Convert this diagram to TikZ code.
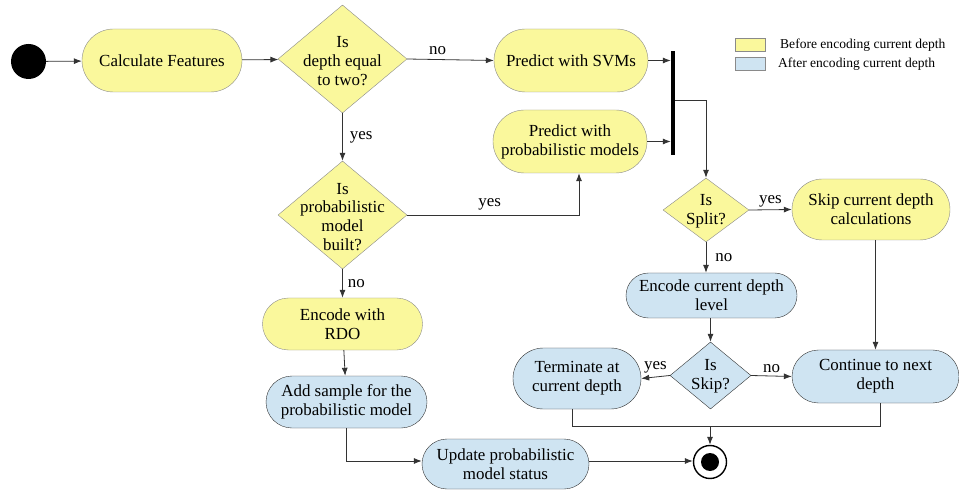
\documentclass[tikz,border=0pt]{standalone}
\usepackage{fontspec}
\setmainfont{Liberation Serif}
\usetikzlibrary{shapes.misc,shapes.geometric,arrows.meta}
\definecolor{yel}{HTML}{FAF89C}
\definecolor{blu}{HTML}{CFE4F2}
\definecolor{edgeg}{HTML}{8A8A8A}
\begin{document}
\begin{tikzpicture}[x=1bp,y=-1bp,
  every node/.style={font=\rmfamily\fontsize{17}{19}\selectfont},
  pillY/.style={rounded rectangle, draw=edgeg, fill=yel, align=center, inner sep=0},
  pillB/.style={rounded rectangle, draw=black!80, fill=blu, align=center, inner sep=0},
  diaY/.style={diamond, draw=edgeg, fill=yel, inner sep=0},
  diaB/.style={diamond, draw=black!80, fill=blu, inner sep=0},
  txt/.style={align=center, inner sep=0},
  arr/.style={draw=black!80, line width=0.8bp, -{Latex[length=8bp,width=6bp]}},
  ln/.style={draw=black!80, line width=0.8bp},
  lbl/.style={inner sep=1bp}]
\useasboundingbox (0,0) rectangle (959,491);

% start
\node[circle, fill=black, minimum size=35bp, inner sep=0] (start) at (28.5,61.5) {};
\node[pillY, minimum width=160bp, minimum height=63bp] (calc) at (162,60.5) {Calculate Features};
\node[diaY, minimum width=129bp, minimum height=108bp] (d1) at (342.5,59) {};
\node[txt] (d1t) at (342.5,61) {Is\\depth equal\\to two?};
\node[pillY, minimum width=154bp, minimum height=63bp] (svm) at (571,60.5) {Predict with SVMs};
\node[pillY, minimum width=154bp, minimum height=63bp] (pm) at (570,141.5) {Predict with\\probabilistic models};
\node[rectangle, fill=black, minimum width=4bp, minimum height=104bp, inner sep=0] (bar) at (673,103) {};

\node[diaY, minimum width=129bp, minimum height=108bp] (d2) at (342.5,215) {};
\node[txt] (d2t) at (342.5,217) {Is\\probabilistic\\model\\built?};
\node[pillY, minimum width=160bp, minimum height=52bp] (rdo) at (342.5,324) {Encode with\\RDO};
\node[pillB, minimum width=161bp, minimum height=52bp] (add) at (346.5,402) {Add sample for the\\probabilistic model};
\node[pillB, minimum width=167bp, minimum height=50bp] (upd) at (505.5,464) {Update probabilistic\\model status};

\node[diaY, minimum width=86bp, minimum height=64bp] (split) at (706,210) {};
\node[txt] (splitt) at (706,211) {Is\\Split?};
\node[pillY, minimum width=158bp, minimum height=61bp] (skip) at (871,209.5) {Skip current depth\\calculations};
\node[pillB, minimum width=171bp, minimum height=45bp] (enc) at (711.5,295.5) {Encode current depth\\level};
\node[diaB, minimum width=81bp, minimum height=67bp] (sk) at (710.5,375.5) {};
\node[txt] (skt) at (710.5,376) {Is\\Skip?};
\node[pillB, minimum width=128bp, minimum height=61bp] (term) at (577,378.5) {Terminate at\\current depth};
\node[pillB, minimum width=167bp, minimum height=53bp] (cont) at (875.5,376.5) {Continue to next\\depth};

\node[circle, draw=black, line width=1.4bp, fill=white, minimum size=33bp, inner sep=0] (end) at (710,462) {};
\node[circle, fill=black, minimum size=18bp, inner sep=0] (endin) at (end) {};

% connectors
\draw[arr] (start) -- (calc);
\draw[arr] (calc) -- (d1);
\draw[arr] (d1.east) -- node[lbl, above, pos=0.35, yshift=3bp] {no} (svm.west);
\draw[arr] (svm.east) -- (svm.east -| bar.west);
\draw[arr] (pm.east) -- (pm.east -| bar.west);
\coordinate (bj) at (675,100);
\draw[arr] (bj) -| (split.north);
\draw[arr] (d1.south) -- node[lbl, right, xshift=6bp] {yes} (d2.north);
\draw[arr] (d2.east) -| node[lbl, above, pos=0.24, yshift=3bp] {yes} ([xshift=9bp]pm.south);
\draw[arr] (d2.south) -- node[lbl, right, xshift=4bp] {no} (rdo.north);
\draw[arr] (rdo) -- (add);
\coordinate (ua) at (430,461);
\draw[arr] (add.south) |- (upd.west |- ua);
\draw[arr] (upd.east |- ua) -- (end.west |- ua);
\draw[arr] (split.east) -- node[lbl, above, yshift=1bp] {yes} (skip.west);
\draw[arr] (split.south) -- node[lbl, right, xshift=8bp] {no} (enc.north -| split.south);
\draw[arr] (enc.south -| sk.north) -- (sk.north);
\draw[arr] (sk.west) -- node[lbl, above, yshift=2bp] {yes} (term.east);
\draw[arr] (sk.east) -- node[lbl, above, yshift=2bp] {no} (cont.west);
\draw[arr] (skip.south -| cont.north) -- (cont.north);
\coordinate (j) at (710,426);
\coordinate (jl) at (572,426);
\coordinate (jr) at (880,426);
\draw[ln] (term.south -| jl) -- (jl) -- (jr) -- (cont.south -| jr);
\draw[arr] (j) -- (end.north);

% legend
\node[rectangle, draw=edgeg, fill=yel, minimum width=30bp, minimum height=13bp, inner sep=0] (lg1) at (750.5,44.5) {};
\node[rectangle, draw=edgeg, fill=blu, minimum width=30bp, minimum height=13bp, inner sep=0] (lg2) at (750.5,63.5) {};
\node[anchor=west, inner sep=0, font=\rmfamily\fontsize{13.6}{15}\selectfont] (lt1) at (780,45) {Before encoding current depth};
\node[anchor=west, inner sep=0, font=\rmfamily\fontsize{13.6}{15}\selectfont] (lt2) at (778,64) {After encoding current depth};
\end{tikzpicture}
\end{document}
